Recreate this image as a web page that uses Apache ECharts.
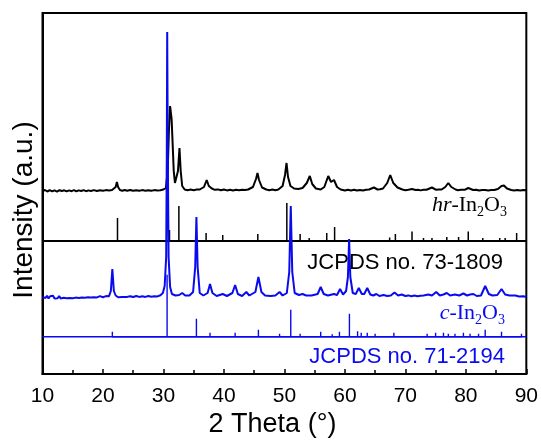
<!DOCTYPE html>
<html>
<head>
<meta charset="utf-8">
<script src="https://cdn.jsdelivr.net/npm/echarts@6/dist/echarts.min.js"></script>
<style>html,body{margin:0;padding:0;background:#fff;}#c{width:541px;height:440px;}</style>
</head>
<body>
<div id="c"></div>
<script>
// x tick labels
var xTicks = [10, 20, 30, 40, 50, 60, 70, 80, 90];

// hr-In2O3 measured pattern: [2theta, intensity above its baseline]
var hrPattern = [[10,0],[10.4,1],[10.8,-0.5],[11.2,0.8],[11.6,-0.3],[12,0.6],[12.4,-0.6],[12.8,0.8],[13.2,0],[13.6,0.7],[14,-0.4],[14.4,0.6],[14.8,-0.2],[15.2,0.8],[15.6,-0.3],[16,0.6],[16.4,0],[16.8,0.9],[17.2,-0.2],[17.6,0.6],[18,0],[18.5,0.9],[19,0],[19.5,0.8],[20,0.2],[20.5,0.9],[21,0.4],[21.5,1],[21.8,1.5],[22.1,4],[22.3,9],[22.5,4],[22.8,1],[23.2,0.2],[23.6,1],[24,0.3],[24.5,1],[25,0.2],[25.5,0.8],[26,0.2],[26.5,0.9],[27,0.3],[27.5,0.8],[28,0.2],[28.5,0.9],[29,0.4],[29.5,0.8],[30.0,1.5],[30.4,3],[30.7,20],[30.9,60],[31.1,85],[31.35,72],[31.5,50],[31.7,20],[31.9,8],[32.1,6],[32.4,20],[32.65,43],[32.85,20],[33.1,5],[33.5,1.5],[34,0.8],[34.5,1.4],[35,0.8],[35.5,1.4],[36,1.5],[36.7,4],[37.15,11],[37.5,5],[38,2.5],[38.5,1.2],[39,1.6],[39.5,0.8],[40,1.5],[40.5,0.6],[41,1.2],[41.5,0.5],[42,1.2],[42.5,0.7],[43,1.3],[43.5,1],[44,1.5],[44.8,4],[45.3,12],[45.55,18],[45.8,11],[46.3,3.5],[47,1.5],[47.5,0.8],[48,1.4],[48.5,0.8],[49,1.5],[49.7,5],[50.1,16],[50.35,28],[50.6,14],[51,5],[51.6,2.5],[52.3,2],[53,3],[53.7,8],[54.2,15],[54.6,7],[55.2,2.5],[56,1.5],[56.6,4],[57.25,15],[57.7,9],[58.2,11],[58.7,4],[59.3,1.5],[60,0.5],[60.5,1.2],[61,0.6],[61.5,1.2],[62,0.5],[62.5,1.1],[63,0.6],[63.5,1.2],[64,1.5],[64.8,3.5],[65.4,1.5],[65.8,1.8],[66.3,2.5],[67,8],[67.5,16],[68,8],[68.7,3.5],[69.5,1.5],[70,0.8],[70.5,1.3],[71.1,2],[71.7,1],[72.1,1.3],[72.5,0.6],[73,1.3],[73.5,1.3],[74.4,3.5],[75.1,1.2],[75.5,1.6],[76,1.5],[76.6,4],[77.1,8],[77.6,4],[78.3,1.5],[78.7,0.8],[79.2,1.3],[79.8,1.2],[80.4,3],[81.2,1],[81.7,1.3],[82.2,0.5],[82.7,1.1],[83.2,1],[83.7,0.5],[84.2,1],[84.7,1],[85.3,2],[85.9,5],[86.3,5.5],[86.8,2.5],[87.5,1],[88,0.4],[88.5,1],[89,0.5],[89.5,1],[90,0.8]];

// JCPDS 73-1809 reference sticks: [2theta, height]
var hrSticks = [[22.4,23],[31.0,11],[32.55,35],[37.05,8],[39.8,6],[45.6,7],[50.4,38],[52.6,7],[54.1,3],[57.0,8],[58.3,14],[64.5,2],[67.4,3.5],[68.35,7],[71.1,9.5],[73.0,3],[74.4,3],[76.85,4],[78.8,4],[80.4,9.5],[82.8,3],[85.6,3],[86.5,3],[88.4,8]];

// c-In2O3 measured pattern
var cPattern = [[10,0],[10.25,1.8],[10.5,-1],[10.75,1.2],[11,-1.5],[11.25,0.8],[11.5,-1],[11.75,1.3],[12,-1.6],[12.25,0.4],[12.5,-1.2],[12.75,1],[13,-1.4],[13.25,0.6],[13.5,-0.8],[13.75,1.2],[14,-1.2],[14.25,0.5],[14.5,-1],[14.75,0.9],[15,-1.3],[15.25,0.7],[15.5,-0.6],[15.75,1.1],[16,-0.9],[16.25,0.8],[16.5,-0.4],[16.75,1.2],[17,-0.7],[17.25,0.9],[17.5,-0.3],[17.75,1],[18,-0.6],[18.25,0.8],[18.5,-0.2],[18.75,1.1],[19,-0.4],[19.5,0.9],[20,-0.2],[20.5,0.9],[21,0.8],[21.3,6],[21.55,28],[21.8,6],[22.1,1.5],[22.5,-0.2],[22.8,0.8],[23.2,0],[23.5,1],[24,0.1],[24.5,0.8],[25,0],[25.5,1],[26,0.1],[26.5,0.7],[27,0.1],[27.5,1],[28,0.2],[28.5,0.8],[29,0.6],[29.5,1.8],[29.9,4],[30.2,11],[30.45,40],[30.55,140],[30.62,265],[30.72,140],[30.85,40],[31.1,10],[31.4,3],[32,1.5],[32.6,2],[33.1,4],[33.6,1.5],[34.3,1.5],[34.9,5],[35.25,30],[35.45,80],[35.65,30],[36,4],[36.6,1.5],[37.3,4],[37.7,13],[38.1,4],[38.8,1],[39.8,3],[40.5,1],[41.4,4],[41.85,12],[42.3,3],[43,1],[43.7,5],[44.2,1.5],[45.2,5],[45.7,20],[46.2,5],[46.8,1.5],[47.7,1],[48.5,1.5],[49.2,5],[49.7,1.5],[50.4,4],[50.8,25],[51.05,91],[51.3,25],[51.7,4],[52.4,2],[53,3],[53.6,1.5],[54.5,1.5],[55.5,3],[56.0,10],[56.5,3],[57.2,1.5],[58.2,3],[58.7,2],[59.2,8],[59.7,2.5],[60.2,6],[60.5,20],[60.7,58],[60.9,20],[61.3,4],[61.8,3],[62.3,9],[62.8,3],[63.2,3],[63.7,9],[64.2,2.5],[64.7,1.5],[65.2,3],[65.7,1],[66.4,2],[67,1],[67.6,1.5],[68.2,4.5],[68.8,1.5],[69.4,2.5],[70,1],[70.5,1.6],[71,0.8],[71.5,1.4],[72,0.8],[72.5,1.3],[73,1.5],[73.8,2.5],[74.4,1.5],[75.1,5],[75.7,1.5],[76.3,2.5],[76.85,4],[77.4,1.5],[78.2,2.5],[78.9,1.5],[79.6,3.5],[80.2,1.5],[80.7,2.5],[81.25,3],[81.8,1],[82.5,1.5],[83.2,11],[83.8,3],[84.4,1.5],[85.2,2],[85.9,8],[86.5,2.5],[87.2,1.5],[88.2,1.5],[88.8,0.5],[89.5,0.8],[90,0]];

// JCPDS 71-2194 reference sticks
var cSticks = [[21.55,5],[30.6,62],[35.45,18],[37.7,4],[39.8,2],[41.85,4],[43.7,2],[45.7,7],[49.2,3],[51.05,27],[52.6,3],[56.0,5],[57.9,2.5],[59.1,5],[60.75,23],[62.1,5.5],[62.7,4],[63.7,4],[65.0,3],[66.4,2],[68.1,4],[69.4,2],[73.6,3],[75.0,4],[76.3,4],[77.1,3],[78.2,3],[79.6,4],[80.7,3],[82.1,3],[83.2,7],[84.0,2],[85.9,5],[87.8,2],[89.2,3]];

// vertical offsets of the stacked traces
var OFF_HR = 183, OFF_HR_REF = 133, OFF_C = 77, OFF_C_REF = 37.3;
var BLUE = '#0a0aee';

function shift(arr, off) { return arr.map(function (p) { return [p[0], p[1] + off]; }); }
function sticks(arr, base) {
  var d = [];
  arr.forEach(function (p) { d.push([p[0], base], [p[0], base + p[1]], [p[0], base]); });
  return d;
}
function baseLine(base) { return [[10, base], [90, base]]; }

var chart = echarts.init(document.getElementById('c'), null, {renderer: 'canvas'});
var lineCommon = {type: 'line', showSymbol: false, symbol: 'none', animation: false, silent: true, smooth: false};

chart.setOption({
  backgroundColor: '#fff',
  animation: false,
  grid: {left: 42.5, right: 13, top: 13, bottom: 66, show: true, borderColor: '#000', borderWidth: 2, backgroundColor: 'transparent'},
  xAxis: {
    type: 'value', min: 10, max: 90, interval: 10,
    axisLine: {show: true, lineStyle: {color: '#000', width: 2}},
    axisTick: {show: true, inside: true, length: 5, lineStyle: {color: '#000', width: 1.5}},
    minorTick: {show: true, splitNumber: 2, length: 4, lineStyle: {color: '#000', width: 1.5}},
    splitLine: {show: false},
    axisLabel: {color: '#000', fontSize: 21, fontFamily: 'Liberation Sans', margin: 12,
      customValues: xTicks, formatter: function (v) { return String(v); }}
  },
  yAxis: {
    type: 'value', min: 0, max: 361,
    axisLine: {show: true, lineStyle: {color: '#000', width: 2}},
    axisTick: {show: false}, axisLabel: {show: false}, splitLine: {show: false}
  },
  series: [
    Object.assign({}, lineCommon, {data: baseLine(OFF_HR_REF), lineStyle: {color: '#000', width: 2}}),
    Object.assign({}, lineCommon, {data: sticks(hrSticks, OFF_HR_REF), lineStyle: {color: '#000', width: 1.5}}),
    Object.assign({}, lineCommon, {data: shift(hrPattern, OFF_HR), lineStyle: {color: '#000', width: 2}}),
    Object.assign({}, lineCommon, {data: baseLine(OFF_C_REF), lineStyle: {color: BLUE, width: 1.6}}),
    Object.assign({}, lineCommon, {data: sticks(cSticks, OFF_C_REF), lineStyle: {color: BLUE, width: 1.4}}),
    Object.assign({}, lineCommon, {data: shift(cPattern, OFF_C), lineStyle: {color: BLUE, width: 2}})
  ],
  graphic: [
    {type: 'text', x: 24.5, y: 210, rotation: Math.PI / 2, silent: true,
      style: {text: 'Intensity (a.u.)', font: '28px "Liberation Sans"', fill: '#000', align: 'center', verticalAlign: 'middle'}},
    {type: 'text', x: 272.5, y: 411, silent: true,
      style: {text: '2 Theta (°)', font: '27px "Liberation Sans"', fill: '#000', align: 'center', verticalAlign: 'top'}},
    {type: 'text', x: 507, y: 205, silent: true,
      style: {text: '{i|hr}{n|-In}{s|2}{n|O}{s|3}', align: 'right', verticalAlign: 'middle', fill: '#000',
        rich: {
          i: {font: 'italic 22px "Liberation Serif"', fill: '#000'},
          n: {font: '22px "Liberation Serif"', fill: '#000'},
          s: {font: '14px "Liberation Serif"', fill: '#000', padding: [14, 0, 0, 0]}
        }}},
    {type: 'text', x: 503, y: 263, silent: true,
      style: {text: 'JCPDS no. 73-1809', font: '22px "Liberation Sans"', fill: '#000', align: 'right', verticalAlign: 'middle'}},
    {type: 'text', x: 505, y: 313, silent: true,
      style: {text: '{i|c}{n|-In}{s|2}{n|O}{s|3}', align: 'right', verticalAlign: 'middle', fill: BLUE,
        rich: {
          i: {font: 'italic 22px "Liberation Serif"', fill: BLUE},
          n: {font: '22px "Liberation Serif"', fill: BLUE},
          s: {font: '14px "Liberation Serif"', fill: BLUE, padding: [14, 0, 0, 0]}
        }}},
    {type: 'text', x: 505, y: 357, silent: true,
      style: {text: 'JCPDS no. 71-2194', font: '22px "Liberation Sans"', fill: BLUE, align: 'right', verticalAlign: 'middle'}}
  ]
});
</script>
</body>
</html>
